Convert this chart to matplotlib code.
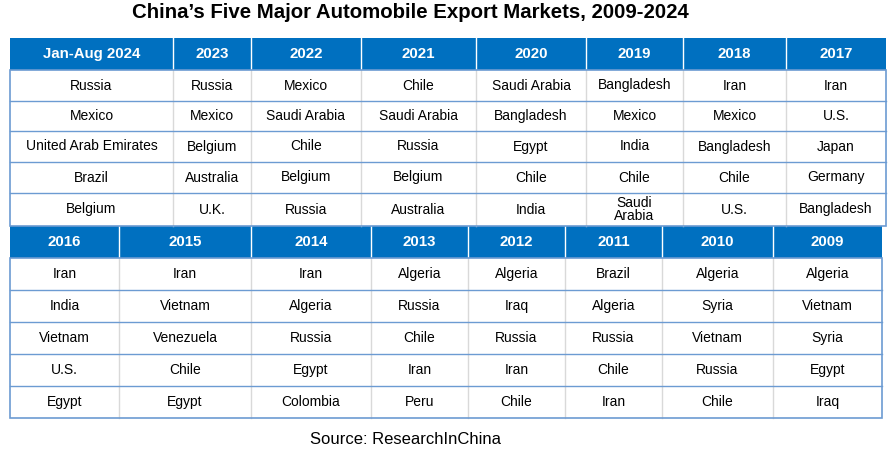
import matplotlib.pyplot as plt
from matplotlib.patches import Rectangle

plt.rcParams['font.family'] = ['Liberation Sans', 'DejaVu Sans']

# data
years_top = ["Jan-Aug 2024", "2023", "2022", "2021", "2020", "2019", "2018", "2017"]
markets_top = [
    ["Russia", "Mexico", "United Arab Emirates", "Brazil", "Belgium"],
    ["Russia", "Mexico", "Belgium", "Australia", "U.K."],
    ["Mexico", "Saudi Arabia", "Chile", "Belgium", "Russia"],
    ["Chile", "Saudi Arabia", "Russia", "Belgium", "Australia"],
    ["Saudi Arabia", "Bangladesh", "Egypt", "Chile", "India"],
    ["Bangladesh", "Mexico", "India", "Chile", "Saudi\nArabia"],
    ["Iran", "Mexico", "Bangladesh", "Chile", "U.S."],
    ["Iran", "U.S.", "Japan", "Germany", "Bangladesh"],
]
years_bottom = ["2016", "2015", "2014", "2013", "2012", "2011", "2010", "2009"]
markets_bottom = [
    ["Iran", "India", "Vietnam", "U.S.", "Egypt"],
    ["Iran", "Vietnam", "Venezuela", "Chile", "Egypt"],
    ["Iran", "Algeria", "Russia", "Egypt", "Colombia"],
    ["Algeria", "Russia", "Chile", "Iran", "Peru"],
    ["Algeria", "Iraq", "Russia", "Iran", "Chile"],
    ["Brazil", "Algeria", "Russia", "Chile", "Iran"],
    ["Algeria", "Syria", "Vietnam", "Russia", "Chile"],
    ["Algeria", "Vietnam", "Syria", "Egypt", "Iraq"],
]

# layout in pixels
cols_top = [10, 173, 251, 361, 476, 586, 683, 786, 886]
rows_top = [38, 70, 101, 131, 162, 193, 226]
cols_bottom = [10, 119, 251, 371, 468, 565, 662, 773, 882]
rows_bottom = [226, 258, 290, 322, 354, 386, 418]

HEADER = '#0070C0'
HLINE = '#6C9BD2'
VLINE = '#D9D9D9'

fig = plt.figure(figsize=(8.93, 4.54), dpi=100)
ax = fig.add_axes([0, 0, 1, 1])
ax.set_xlim(0, 893)
ax.set_ylim(454, 0)
ax.axis('off')


def draw_table(years, markets, cols, rows):
    x0, x1 = cols[0], cols[-1]
    # header band
    ax.add_patch(Rectangle((x0, rows[0]), x1 - x0, rows[1] - rows[0],
                           facecolor=HEADER, edgecolor='none', zorder=1))
    # vertical separators
    for x in cols[1:-1]:
        ax.plot([x, x], [rows[0], rows[1]], color='white', lw=1, zorder=2)
        ax.plot([x, x], [rows[1], rows[-1]], color=VLINE, lw=1, zorder=2)
    # horizontal separators
    for y in rows[2:-1]:
        ax.plot([x0, x1], [y, y], color=HLINE, lw=1, zorder=2)
    # outer border of body
    ax.add_patch(Rectangle((x0, rows[1]), x1 - x0, rows[-1] - rows[1],
                           facecolor='none', edgecolor=HLINE, lw=1.2, zorder=3))
    for j, yr in enumerate(years):
        cx = (cols[j] + cols[j + 1]) / 2
        ax.text(cx, (rows[0] + rows[1]) / 2, yr, color='white', fontsize=10.8,
                fontweight='bold', ha='center', va='center', zorder=4)
        for i, m in enumerate(markets[j]):
            cy = (rows[i + 1] + rows[i + 2]) / 2
            ax.text(cx, cy, m, color='black', fontsize=10, ha='center',
                    va='center', linespacing=0.95, zorder=4)


draw_table(years_top, markets_top, cols_top, rows_top)
draw_table(years_bottom, markets_bottom, cols_bottom, rows_bottom)

ax.text(410, 13, "China\u2019s Five Major Automobile Export Markets, 2009-2024",
        fontsize=14.7, fontweight='bold', ha='center', va='center')
ax.text(406, 440, "Source: ResearchInChina", fontsize=12, ha='center', va='center')

fig.savefig('out.png', dpi=100)
